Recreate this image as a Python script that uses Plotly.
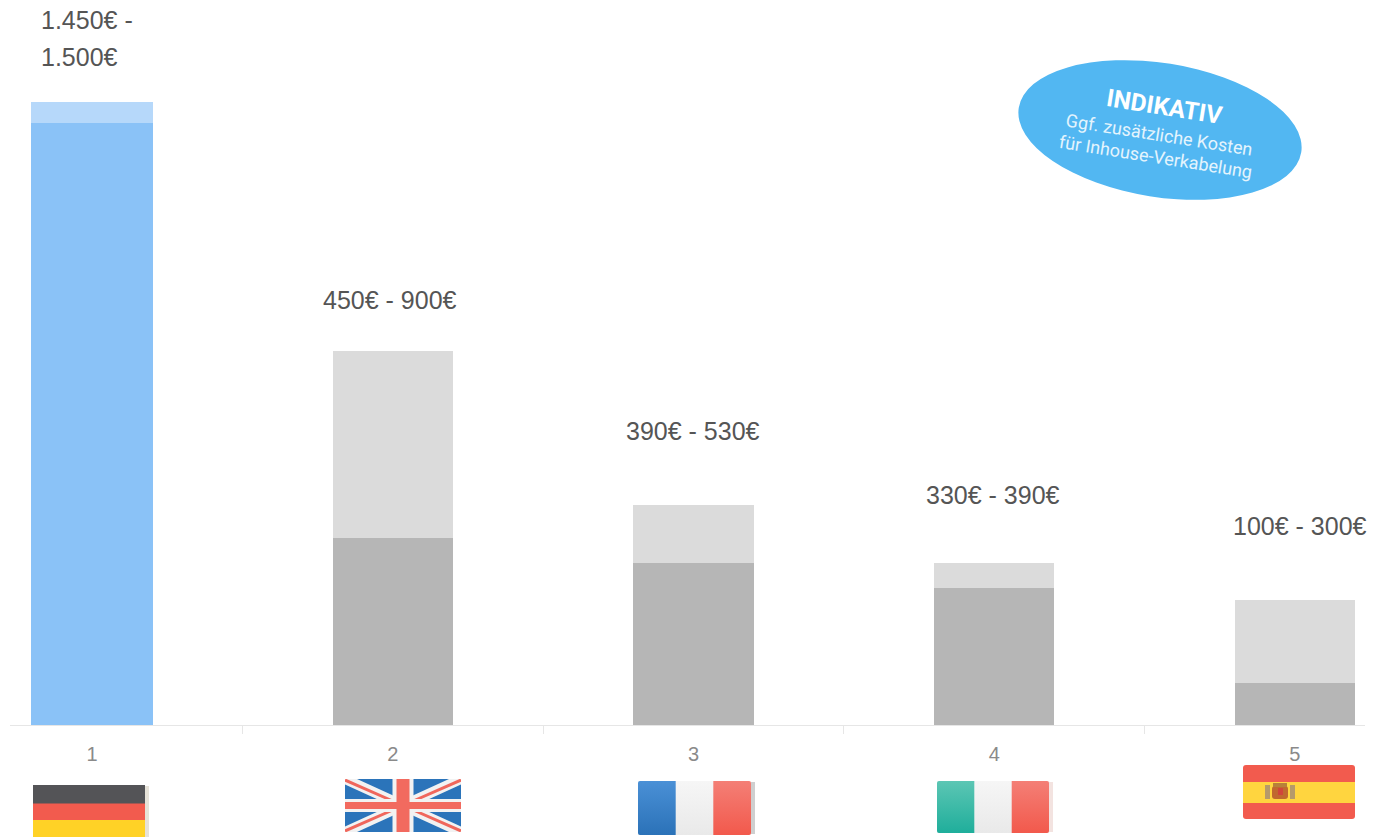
import base64
import plotly.graph_objects as go

W, H = 1377, 837
# plot area in page pixels
ML, MR, MT, MB = 10, 12, 0, 112
PW, PH = W - ML - MR, H - MT - MB

ranks = ["1", "2", "3", "4", "5"]
low_values = [1450, 450, 390, 330, 100]
high_values = [1500, 900, 530, 390, 300]
range_labels = [["1.450€ -", "1.500€"], ["450€ - 900€"], ["390€ - 530€"], ["330€ - 390€"], ["100€ - 300€"]]
low_colors = ["#8AC2F7", "#B6B6B6", "#B6B6B6", "#B6B6B6", "#B6B6B6"]
high_colors = ["#B6D8FA", "#DBDBDB", "#DBDBDB", "#DBDBDB", "#DBDBDB"]
# label offset from the bar top / centre, px
label_shift = [45, 51, 74, 68, 74]
label_dx = [-53, -72, -70, -70, -64]
bar_widths = [0.407, 0.4, 0.4, 0.4, 0.4]

GRADS = """<defs>
<linearGradient id="b" x1="0" y1="0" x2="0" y2="1"><stop offset="0" stop-color="#4A90D6"/><stop offset="1" stop-color="#2B72B8"/></linearGradient>
<linearGradient id="w" x1="0" y1="0" x2="0" y2="1"><stop offset="0" stop-color="#F6F6F6"/><stop offset="1" stop-color="#E9E9E9"/></linearGradient>
<linearGradient id="r" x1="0" y1="0" x2="0" y2="1"><stop offset="0" stop-color="#F47F76"/><stop offset="1" stop-color="#F2594C"/></linearGradient>
<linearGradient id="g" x1="0" y1="0" x2="0" y2="1"><stop offset="0" stop-color="#5CC6B4"/><stop offset="1" stop-color="#1FAE9B"/></linearGradient>
</defs>"""


def tricolor(w, h, c1, shadow):
    third = (w - 4) / 3
    return f"""<rect x="4" y="1" width="{w - 4}" height="{h - 2}" fill="{shadow}"/>
<rect x="0" y="0" width="{w - 4}" height="{h}" rx="2" fill="url(#w)"/>
<path d="M2 0H{third:.1f}V{h}H2a2 2 0 0 1-2-2V2a2 2 0 0 1 2-2z" fill="url(#{c1})"/>
<path d="M{w - 4 - third:.1f} 0H{w - 6}a2 2 0 0 1 2 2V{h - 2}a2 2 0 0 1-2 2H{w - 4 - third:.1f}z" fill="url(#r)"/>"""


germany = """<rect x="4" y="1" width="112" height="55" fill="#E6E2D8"/>
<rect width="112" height="19" fill="#545457"/><rect y="18.5" width="112" height="17" fill="#F25B4E"/>
<rect y="35" width="112" height="21" fill="#FFD226"/>"""

uk = """<rect width="116" height="53" rx="3" fill="#2B74BA"/>
<path d="M0 0L116 53M116 0L0 53" stroke="#F2F2F2" stroke-width="10"/>
<path d="M0 1L50 23M116 1L66 23M0 52L50 30M116 52L66 30" stroke="#F0675C" stroke-width="3"/>
<path d="M58 0V53" stroke="#F2F2F2" stroke-width="21"/><path d="M0 26.5H116" stroke="#F2F2F2" stroke-width="13"/>
<path d="M58 0V53" stroke="#F26A5F" stroke-width="13"/><path d="M0 26.5H116" stroke="#F26A5F" stroke-width="7"/>"""

france = tricolor(117, 54, "b", "#CFCFCF")
italy = tricolor(116, 52, "g", "#F3E3E0")

spain = """<rect width="112" height="54" rx="3" fill="#F25B4E"/><rect y="17" width="112" height="21" fill="#FFD53F"/>
<rect x="22" y="20" width="5" height="14" fill="#B59A6A"/><rect x="47" y="20" width="5" height="14" fill="#B59A6A"/>
<rect x="29" y="21" width="16" height="13" rx="3" fill="#C0692F"/><rect x="30" y="18" width="14" height="4" fill="#B8803A"/>
<rect x="35" y="23" width="5" height="7" fill="#D0453A"/>"""


def flag_uri(body, w, h):
    svg = f'<svg xmlns="http://www.w3.org/2000/svg" width="{w}" height="{h}" viewBox="0 0 {w} {h}">{GRADS}{body}</svg>'
    return "data:image/svg+xml;base64," + base64.b64encode(svg.encode()).decode()


def pic(body, x, y, w, h):
    return dict(source=flag_uri(body, w, h), xref="paper", yref="paper", x=(x - ML) / PW, y=1 - (y - MT) / PH,
                sizex=w / PW, sizey=h / PH, xanchor="left", yanchor="top", sizing="stretch", layer="above")


badge = '<ellipse cx="143" cy="70" rx="143" ry="67" fill="#52B7F2" transform="rotate(9 143 70)"/>'

fig = go.Figure()
fig.add_trace(go.Bar(x=ranks, y=low_values, marker_color=low_colors, marker_line_width=0, width=bar_widths))
fig.add_trace(go.Bar(x=ranks, y=[h - l for h, l in zip(high_values, low_values)],
                     marker_color=high_colors, marker_line_width=0, width=bar_widths))

for i, lines in enumerate(range_labels):
    for j, line in enumerate(lines):
        fig.add_annotation(x=i, y=high_values[i], text=line, showarrow=False, yanchor="middle", xanchor="left",
                           xshift=label_dx[i], yshift=label_shift[i] + 37 * (len(lines) - 1 - j),
                           font=dict(family="Liberation Sans", size=25, color="#555555"))

for text, x, y, size, color in [("<b>INDIKATIV</b>", 1164, 107, 24.5, "white"),
                                ("Ggf. zusätzliche Kosten", 1159, 134, 18, "#E4F4FD"),
                                ("für Inhouse-Verkabelung", 1155, 157, 18, "#E4F4FD")]:
    fig.add_annotation(xref="paper", yref="paper", x=(x - ML) / PW, y=1 - (y - MT) / PH, text=text, showarrow=False,
                       xanchor="center", yanchor="middle", textangle=9, font=dict(family="Roboto", size=size, color=color))

fig.update_layout(
    width=W, height=H, barmode="stack", showlegend=False, plot_bgcolor="white", paper_bgcolor="white",
    margin=dict(l=ML, r=MR, t=MT, b=MB),
    images=[pic(badge, 1017, 60, 286, 140), pic(germany, 33, 785, 116, 52), pic(uk, 345, 779, 116, 53),
            pic(france, 638, 781, 117, 54), pic(italy, 937, 781, 116, 52), pic(spain, 1243, 765, 112, 54)],
)
fig.update_xaxes(type="category", range=[-0.273, 4.233], tickson="boundaries", ticks="outside", ticklen=8,
                 tickcolor="#E6E6E6", linecolor="#E6E6E6", linewidth=1, showgrid=False, ticklabelstandoff=11,
                 tickfont=dict(family="Liberation Sans", size=20, color="#8A8A8A"))
fig.update_yaxes(range=[0, 1745], visible=False)

fig.write_html("out.html", config=dict(displayModeBar=False),
               post_script="document.body.style.margin='0';document.body.style.overflow='hidden';")
